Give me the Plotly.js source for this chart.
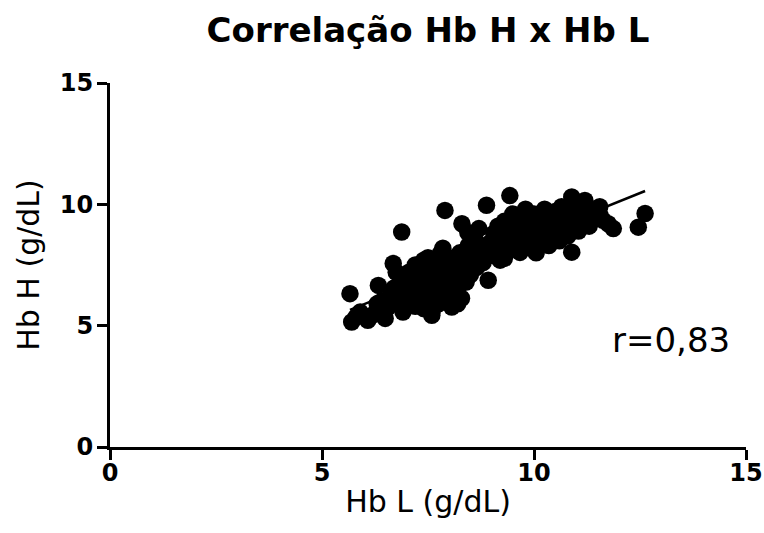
<!DOCTYPE html>
<html>
<head>
<meta charset="utf-8">
<script src="https://cdn.plot.ly/plotly-3.0.1.min.js"></script>
<style>html,body{margin:0;padding:0;background:#fff;}#chart{width:764px;height:533px;}</style>
</head>
<body>
<div id="chart"></div>
<script>
// Hb L (g/dL) values
const hbL = [5.66,5.70,5.80,5.90,6.08,6.20,6.33,6.30,6.49,6.55,6.68,6.60,6.70,6.91,6.88,6.80,6.95,7.00,7.05,7.10,
  7.15,7.20,7.25,7.30,7.35,7.40,7.45,7.50,7.55,7.59,7.60,7.65,7.70,7.75,7.80,7.85,7.90,7.90,7.95,8.00,
  8.06,8.10,8.15,8.20,8.25,8.29,8.30,8.35,8.40,8.45,8.50,8.55,8.60,8.65,8.70,8.75,8.80,8.88,8.92,8.95,
  9.00,9.05,9.10,9.15,9.20,9.25,9.30,9.35,9.43,9.40,9.50,9.55,9.60,9.67,9.70,9.75,9.80,9.85,9.90,9.95,
  10.00,10.05,10.10,10.15,10.20,10.25,10.30,10.35,10.40,10.45,10.50,10.55,10.60,10.65,10.70,10.75,10.80,10.89,10.89,10.95,
  11.00,11.05,11.10,11.20,11.25,11.35,11.45,11.55,11.63,11.75,11.87,12.46,12.62,
  6.40,6.90,7.10,7.30,7.50,7.70,7.80,8.00,8.10,8.44,9.30,10.07,11.30,11.56,7.20,7.60,8.20,6.75,7.40,7.95];
// Hb H (g/dL) values
const hbH = [6.32,5.15,5.35,5.56,5.22,5.45,6.66,5.90,5.30,5.75,7.56,6.20,6.55,5.56,8.86,6.00,6.90,6.30,7.20,5.90,
  6.60,7.50,6.10,7.00,6.40,5.70,7.30,6.80,6.00,5.43,7.60,6.50,7.10,5.90,6.70,8.19,9.75,7.40,6.20,7.80,
  5.77,6.90,7.20,6.50,8.00,6.13,9.20,7.50,6.80,8.30,7.10,7.80,8.60,7.40,9.00,8.10,7.60,9.96,6.87,8.40,
  7.90,8.80,8.20,9.10,7.70,8.50,9.30,8.00,10.36,8.90,9.60,8.30,9.00,8.02,9.40,8.60,9.80,8.90,9.20,8.40,
  9.60,8.00,9.00,9.50,8.60,9.80,9.10,8.30,9.40,8.80,9.70,9.20,8.50,9.90,9.00,9.50,8.70,10.30,8.03,9.30,
  9.80,8.90,9.60,10.16,9.20,9.70,9.40,9.90,9.34,9.20,9.00,9.06,9.62,
  6.00,6.40,6.80,6.20,7.80,6.30,8.00,6.60,7.50,8.84,7.77,8.38,9.10,9.54,5.80,5.60,5.90,7.20,7.70,7.00];
const titleText = "Correlação Hb H x Hb L";
const xTitle = "Hb L (g/dL)";
const yTitle = "Hb H (g/dL)";
const rLabel = "r=0,83";
const tickVals = [0,5,10,15];

// least-squares fit of hbH on hbL
const n = hbL.length;
const mx = hbL.reduce((a,b)=>a+b,0)/n;
const my = hbH.reduce((a,b)=>a+b,0)/n;
let sxy=0, sxx=0;
for(let i=0;i<n;i++){sxy+=(hbL[i]-mx)*(hbH[i]-my);sxx+=(hbL[i]-mx)**2;}
const slope = sxy/sxx, icpt = my - slope*mx;
const x0 = Math.min(...hbL), x1 = Math.max(...hbL);

const font = "DejaVu Sans, Liberation Sans, Arial, sans-serif";
const data = [
  {x: hbL, y: hbH, type:'scatter', mode:'markers',
   marker:{color:'#000', size:17.5, line:{width:0}}, hoverinfo:'x+y'},
  {x:[x0,x1], y:[icpt+slope*x0, icpt+slope*x1], type:'scatter', mode:'lines',
   line:{color:'#000', width:2.5}}
];
const axisBase = {range:[0,15], tickvals:tickVals, showgrid:false, zeroline:false,
  showline:true, linecolor:'#000', linewidth:3, ticks:'outside', ticklen:10, tickwidth:3, tickcolor:'#000',
  tickfont:{family:font, size:24, color:'#000', weight:'bold'}, fixedrange:true};
const layout = {
  width:764, height:533, paper_bgcolor:'#fff', plot_bgcolor:'#fff', showlegend:false,
  margin:{l:110, r:18, t:83, b:86},
  title:{text:titleText, font:{family:font, size:34, color:'#000', weight:'bold'},
         x:0.5, xref:'paper', y:1-30/533, yref:'container', yanchor:'middle'},
  xaxis:Object.assign({}, axisBase, {ticklabelstandoff:-8, title:{text:xTitle, standoff:6, font:{family:font, size:30, color:'#000'}}}),
  yaxis:Object.assign({}, axisBase, {ticklabelstandoff:-1, title:{text:yTitle, standoff:12, font:{family:font, size:30, color:'#000'}}}),
  annotations:[{x:13.23, y:4.4, xref:'x', yref:'y', text:rLabel, showarrow:false,
    font:{family:font, size:34, color:'#000'}}]
};
Plotly.newPlot('chart', data, layout, {displayModeBar:false, staticPlot:true});
</script>
</body>
</html>
